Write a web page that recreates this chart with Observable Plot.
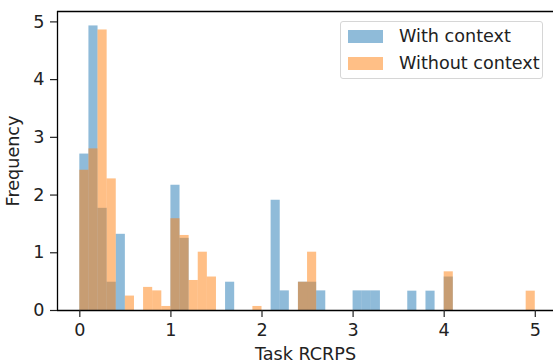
<!DOCTYPE html>
<html>
<head>
<meta charset="utf-8">
<script src="https://cdn.jsdelivr.net/npm/d3@7"></script>
<script src="https://cdn.jsdelivr.net/npm/@observablehq/plot@0.6"></script>
<style>
  body { margin: 0; background: #fff; }
  #wrap { position: relative; width: 553px; height: 362px; font-family: "DejaVu Sans", sans-serif; }
  #legend { position: absolute; left: 340px; top: 21px; width: 203px; height: 58px;
    border: 1px solid #d6d6d6; border-radius: 3px; background: rgba(255,255,255,0.8);
    font-size: 17.6px; color: #222; box-sizing: border-box; }
  .item { position: absolute; left: 7px; height: 13px; display: flex; align-items: center; }
  .sw { width: 35px; height: 13px; margin-right: 16px; flex: none; }
  .lab { white-space: nowrap; line-height: 13px; }
</style>
</head>
<body>
<div id="wrap"></div>
<script>
// Bin width of both histograms (Task RCRPS units)
const binWidth = 0.1;

// "With context" histogram: left bin edges and density heights
const withBins    = [0.0, 0.1, 0.2, 0.3, 0.4, 1.0, 1.1, 1.6, 2.1, 2.2, 2.4, 2.5, 2.6, 3.0, 3.1, 3.2, 3.6, 3.8, 4.0];
const withHeights = [2.71, 4.93, 1.77, 0.49, 1.32, 2.17, 1.25, 0.49, 1.91, 0.34, 0.49, 0.49, 0.34, 0.34, 0.34, 0.34, 0.335, 0.335, 0.58];

// "Without context" histogram
const withoutBins    = [0.0, 0.1, 0.2, 0.3, 0.5, 0.7, 0.8, 0.9, 1.0, 1.1, 1.2, 1.3, 1.4, 1.9, 2.4, 2.5, 4.0, 4.9];
const withoutHeights = [2.43, 2.80, 4.86, 2.28, 0.25, 0.40, 0.34, 0.07, 1.59, 1.30, 0.52, 1.01, 0.58, 0.07, 0.49, 1.01, 0.67, 0.335];

const seriesNames = ["With context", "Without context"];
const seriesColors = ["#1f77b4", "#ff7f0e"];

const xTicks = [0, 1, 2, 3, 4, 5];
const yTicks = [0, 1, 2, 3, 4, 5];
const xDomain = [-0.245, 5.2];
const yDomain = [0, 5.18];

const toRows = (bins, heights, name) => bins.map((b, i) => ({x0: b, x1: b + binWidth, h: heights[i], series: name}));
const rowsWith = toRows(withBins, withHeights, seriesNames[0]);
const rowsWithout = toRows(withoutBins, withoutHeights, seriesNames[1]);

const chart = Plot.plot({
  width: 553,
  height: 362,
  marginLeft: 57,
  marginRight: 0,
  marginTop: 11,
  marginBottom: 52,
  style: {fontFamily: "DejaVu Sans, sans-serif", fontSize: "17.6px", color: "#222", background: "#fff"},
  x: {domain: xDomain},
  y: {domain: yDomain},
  marks: [
    Plot.rectY(rowsWith, {x1: "x0", x2: "x1", y1: 0, y2: "h", fill: seriesColors[0], fillOpacity: 0.5}),
    Plot.rectY(rowsWithout, {x1: "x0", x2: "x1", y1: 0, y2: "h", fill: seriesColors[1], fillOpacity: 0.5}),
    Plot.ruleY([yDomain[0]], {stroke: "#000", strokeWidth: 1.3}),
    Plot.ruleY([yDomain[1]], {stroke: "#000", strokeWidth: 1.3}),
    Plot.ruleX([xDomain[0]], {stroke: "#000", strokeWidth: 1.3}),
    Plot.axisX({ticks: xTicks, tickSize: 7, tickPadding: 6, tickFormat: d => String(d), strokeWidth: 1.2,
      label: "Task RCRPS", labelAnchor: "center", labelArrow: false}),
    Plot.axisY({ticks: yTicks, tickSize: 7, tickPadding: 6, tickFormat: d => String(d), strokeWidth: 1.2,
      label: "Frequency", labelAnchor: "center", labelArrow: false, labelOffset: 51})
  ]
});

const wrap = document.getElementById("wrap");
wrap.appendChild(chart);

const legend = document.createElement("div");
legend.id = "legend";
seriesNames.forEach((name, i) => {
  const item = document.createElement("div");
  item.className = "item";
  item.style.top = (i === 0 ? 8 : 35) + "px";
  const sw = document.createElement("div");
  sw.className = "sw";
  sw.style.background = seriesColors[i];
  sw.style.opacity = 0.5;
  const lab = document.createElement("div");
  lab.className = "lab";
  lab.textContent = name;
  item.appendChild(sw);
  item.appendChild(lab);
  legend.appendChild(item);
});
wrap.appendChild(legend);
</script>
</body>
</html>
